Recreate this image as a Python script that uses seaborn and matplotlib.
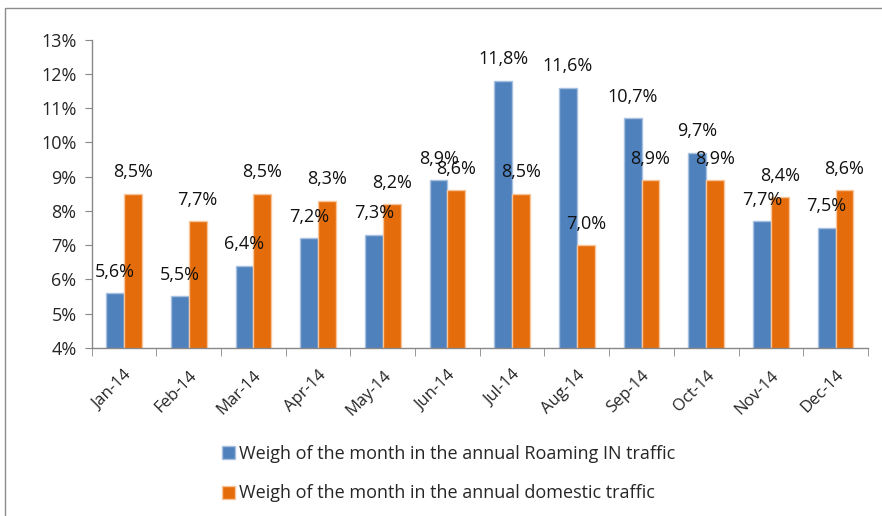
import pandas as pd
import matplotlib.pyplot as plt
import matplotlib.patches as mpatches
from matplotlib.ticker import FixedLocator
import seaborn as sns

# Data
months = ['Jan-14', 'Feb-14', 'Mar-14', 'Apr-14', 'May-14', 'Jun-14',
          'Jul-14', 'Aug-14', 'Sep-14', 'Oct-14', 'Nov-14', 'Dec-14']
roaming_in = [5.6, 5.5, 6.4, 7.2, 7.3, 8.9, 11.8, 11.6, 10.7, 9.7, 7.7, 7.5]
domestic = [8.5, 7.7, 8.5, 8.3, 8.2, 8.6, 8.5, 7.0, 8.9, 8.9, 8.4, 8.6]
series_names = ['Weigh of the month in the annual Roaming IN traffic',
                'Weigh of the month in the annual domestic traffic']
y_ticks = [4, 5, 6, 7, 8, 9, 10, 11, 12, 13]

blue = '#4F81BD'
orange = '#E46C0A'

df = pd.DataFrame({
    'month': months * 2,
    'value': roaming_in + domestic,
    'series': [series_names[0]] * len(months) + [series_names[1]] * len(months),
})

sns.set_style('white')
plt.rcParams['font.family'] = ['Open Sans', 'DejaVu Sans']

fig = plt.figure(figsize=(8.82, 5.16), dpi=100)
ax = fig.add_axes([0.104, 0.326, 0.880, 0.597])

sns.barplot(data=df, x='month', y='value', hue='series', hue_order=series_names,
            palette=[blue, orange], saturation=1, width=0.55, ax=ax, legend=False)

# bar edges and value labels
edges = ['#A7C0E0', '#F9C59A']
for cont, edge in zip(ax.containers, edges):
    for bar in cont:
        bar.set_edgecolor(edge)
        bar.set_linewidth(1.0)
    ax.bar_label(cont, labels=[f'{v:.1f}%'.replace('.', ',') for v in cont.datavalues],
                 padding=9, fontsize=13, color='#111111')

ax.set_ylim(4, 13)
ax.set_xlim(-0.5, len(months) - 0.5)
ax.set_yticks(y_ticks)
ax.set_yticklabels([f'{t}%' for t in y_ticks], fontsize=13)
ax.set_xlabel('')
ax.set_ylabel('')
ax.set_xticks(range(len(months)))
ax.set_xticklabels(months, rotation=45, ha='right', rotation_mode='anchor', fontsize=12)
ax.xaxis.set_minor_locator(FixedLocator([i - 0.5 for i in range(len(months) + 1)]))
ax.tick_params(axis='x', which='major', length=0, pad=14)
ax.tick_params(axis='x', which='minor', length=6, color='#888888', direction='out', bottom=True)
ax.tick_params(axis='y', length=5, color='#888888', direction='out', left=True, pad=6)

for side in ['top', 'right']:
    ax.spines[side].set_visible(False)
for side in ['left', 'bottom']:
    ax.spines[side].set_color('#888888')
    ax.spines[side].set_linewidth(1.0)

handles = [mpatches.Patch(facecolor=blue, edgecolor='#A7C0E0', label=series_names[0]),
           mpatches.Patch(facecolor=orange, edgecolor='#F9C59A', label=series_names[1])]
fig.legend(handles=handles, loc='upper left', bbox_to_anchor=(0.243, 0.152),
           frameon=False, fontsize=13, handlelength=0.75, handleheight=0.75,
           handletextpad=0.2, labelspacing=1.2, borderaxespad=0)

# outer chart frame
fig.patches.append(mpatches.Rectangle((0.006, -0.05), 1.2, 1.035, transform=fig.transFigure,
                                      fill=False, edgecolor='#8c8c8c', linewidth=1.0))

fig.savefig('out.png', dpi=100)
